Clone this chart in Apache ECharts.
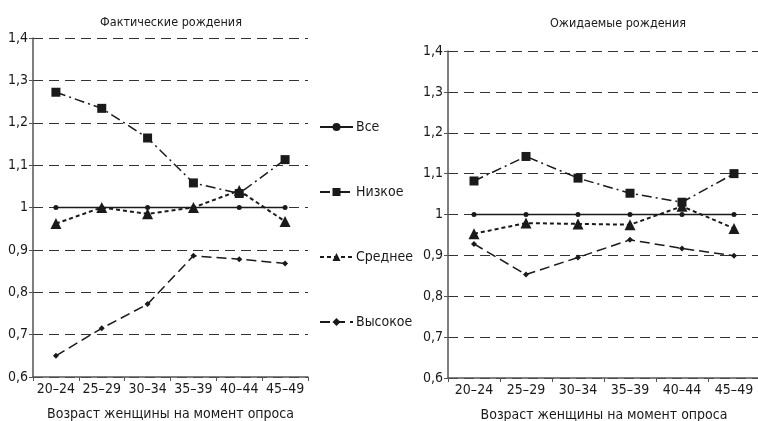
<!DOCTYPE html>
<html>
<head>
<meta charset="utf-8">
<script src="https://cdn.jsdelivr.net/npm/echarts@6/dist/echarts.min.js"></script>
<style>
  html, body { margin: 0; padding: 0; background: #fff; }
  #chart { width: 758px; height: 421px; }
</style>
</head>
<body>
<div id="chart"></div>
<script>
const ages = ["20–24", "25–29", "30–34", "35–39", "40–44", "45–49"];
const seriesNames = ["Все", "Низкое", "Среднее", "Высокое"];

// Фактические рождения
const factAll = [1, 1, 1, 1, 1, 1];
const factLow = [1.272, 1.234, 1.164, 1.058, 1.033, 1.113];
const factMid = [0.962, 1.0, 0.985, 1.0, 1.04, 0.967];
const factHigh = [0.65, 0.715, 0.772, 0.886, 0.878, 0.868];

// Ожидаемые рождения
const expAll = [1, 1, 1, 1, 1, 1];
const expLow = [1.082, 1.142, 1.089, 1.052, 1.03, 1.1];
const expMid = [0.953, 0.979, 0.977, 0.975, 1.02, 0.966];
const expHigh = [0.928, 0.853, 0.895, 0.938, 0.917, 0.899];

const FONT = "'DejaVu Sans Condensed', 'Liberation Sans', sans-serif";
const INK = "#1a1a1a";

let chart = echarts.init(document.getElementById("chart"));

function yAxisFor(gridIndex) {
    return {
        type: "value",
        gridIndex: gridIndex,
        min: 0.6,
        max: 1.4,
        interval: 0.1,
        axisLine: { show: true, lineStyle: { color: "#555", width: 1.5 } },
        axisTick: { show: true, length: 4, lineStyle: { color: "#555" } },
        axisLabel: {
            color: INK,
            fontFamily: FONT,
            fontSize: 14,
            margin: 5,
            formatter: function (v) {
                return String(Math.round(v * 10) / 10).replace(".", ",");
            },
        },
        splitLine: {
            show: true,
            lineStyle: { color: "#333", type: [10, 6], width: 1 },
        },
    };
}

function xAxisFor(gridIndex) {
    return {
        type: "category",
        gridIndex: gridIndex,
        data: ages,
        boundaryGap: true,
        name: "Возраст женщины на момент опроса",
        nameLocation: "middle",
        nameGap: 30,
        nameTextStyle: { color: INK, fontFamily: FONT, fontSize: 14 },
        axisLine: { show: true, lineStyle: { color: "#555", width: 1.5 } },
        axisTick: { show: true, alignWithLabel: false, length: 4, lineStyle: { color: "#555" } },
        axisLabel: { color: INK, fontFamily: FONT, fontSize: 14, margin: 5, interval: 0 },
        splitLine: { show: false },
    };
}

const styles = {
    "Все": { symbol: "circle", symbolSize: 5, lineStyle: { type: "solid", width: 1.5 } },
    "Низкое": { symbol: "rect", symbolSize: 9, lineStyle: { type: [10, 4, 2, 4], width: 1.5 } },
    "Среднее": { symbol: "triangle", symbolSize: 11, lineStyle: { type: [4, 3], width: 2 } },
    "Высокое": { symbol: "diamond", symbolSize: 6, lineStyle: { type: [10, 5], width: 1.5 } },
};

function makeSeries(name, data, idx) {
    const s = styles[name];
    return {
        name: name,
        type: "line",
        xAxisIndex: idx,
        yAxisIndex: idx,
        data: data,
        symbol: s.symbol,
        symbolSize: s.symbolSize,
        showAllSymbol: true,
        lineStyle: Object.assign({ color: INK }, s.lineStyle),
        itemStyle: { color: INK },
        emphasis: { disabled: true },
        z: name === "Все" ? 3 : 4,
    };
}

chart.setOption({
    animation: false,
    backgroundColor: "#fff",
    title: [
        {
            text: "Фактические рождения",
            left: 166,
            top: 11,
            textAlign: "center",
            textStyle: { color: INK, fontFamily: FONT, fontSize: 12.5, fontWeight: "normal" },
        },
        {
            text: "Ожидаемые рождения",
            left: 613,
            top: 12,
            textAlign: "center",
            textStyle: { color: INK, fontFamily: FONT, fontSize: 12.5, fontWeight: "normal" },
        },
    ],
    legend: {
        orient: "vertical",
        left: 314,
        top: 115,
        itemWidth: 33,
        itemHeight: 10,
        itemGap: 51,
        itemStyle: { borderWidth: 0 },
        data: seriesNames,
        textStyle: { color: INK, fontFamily: FONT, fontSize: 14, padding: [0, 0, 0, -2] },
        selectedMode: false,
    },
    grid: [
        { left: 33, top: 38, width: 275, height: 339, containLabel: false, outerBoundsMode: "none" },
        { left: 448, top: 51, width: 312, height: 327, containLabel: false, outerBoundsMode: "none" },
    ],
    xAxis: [xAxisFor(0), xAxisFor(1)],
    yAxis: [yAxisFor(0), yAxisFor(1)],
    series: [
        makeSeries("Все", factAll, 0),
        makeSeries("Низкое", factLow, 0),
        makeSeries("Среднее", factMid, 0),
        makeSeries("Высокое", factHigh, 0),
        makeSeries("Все", expAll, 1),
        makeSeries("Низкое", expLow, 1),
        makeSeries("Среднее", expMid, 1),
        makeSeries("Высокое", expHigh, 1),
    ],
});

window.addEventListener("resize", function () {
    chart.resize();
});
</script>
</body>
</html>
